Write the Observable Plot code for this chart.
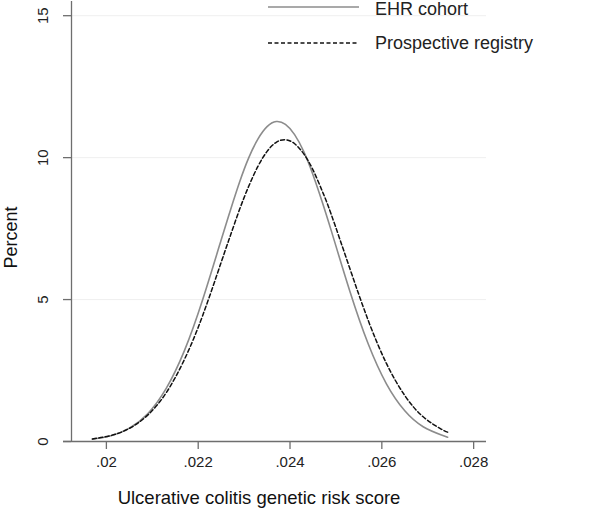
<!DOCTYPE html>
<html>
<head>
<meta charset="utf-8">
<script src="https://cdn.jsdelivr.net/npm/d3@7"></script>
<script src="https://cdn.jsdelivr.net/npm/@observablehq/plot@0.6"></script>
<style>
  html, body { margin: 0; padding: 0; background: #fff; }
  #wrap { position: relative; width: 603px; height: 511px; font-family: "Liberation Sans", Arial, sans-serif; }
  #legend { position: absolute; left: 268px; top: 0; font-size: 18px; color: #222; }
  .item { position: absolute; left: 0; white-space: nowrap; height: 20px; }
  .item svg { position: absolute; left: 0; top: 0; }
  .item span { position: absolute; left: 107px; top: 0; line-height: 20px; }
</style>
</head>
<body>
<div id="wrap"><div id="legend"></div></div>
<script>
// ---- data ----
const seriesNames = ["EHR cohort", "Prospective registry"];

const ehrX = [0.019695, 0.0201, 0.0205, 0.0209, 0.0213, 0.0217, 0.0221, 0.0225, 0.0227, 0.0229, 0.0231, 0.0233, 0.0235, 0.0237, 0.0239, 0.0241, 0.0243, 0.0245, 0.0247, 0.0249, 0.0253, 0.0257, 0.0261, 0.0265, 0.0269, 0.0273, 0.027433];
const ehrY = [0.08, 0.20, 0.47, 0.98, 1.86, 3.20, 5.01, 7.10, 8.14, 9.13, 9.99, 10.65, 11.09, 11.27, 11.17, 10.81, 10.21, 9.40, 8.45, 7.42, 5.31, 3.45, 2.03, 1.08, 0.52, 0.23, 0.15];

const proX = [0.019695, 0.0201, 0.0205, 0.0209, 0.0213, 0.0217, 0.0221, 0.0225, 0.0227, 0.0229, 0.0231, 0.0233, 0.0235, 0.0237, 0.0239, 0.0241, 0.0243, 0.0245, 0.0247, 0.0249, 0.0253, 0.0257, 0.0261, 0.0265, 0.0269, 0.0273, 0.027433];
const proY = [0.09, 0.21, 0.46, 0.93, 1.71, 2.89, 4.45, 6.31, 7.25, 8.17, 8.99, 9.69, 10.22, 10.54, 10.63, 10.49, 10.13, 9.57, 8.83, 7.99, 6.11, 4.28, 2.75, 1.62, 0.87, 0.43, 0.33];

const xTicks = [0.020, 0.022, 0.024, 0.026, 0.028];
const yTicks = [0, 5, 10, 15];
const gridTicks = [5, 10, 15];
const xDomain = [0.01924, 0.02828];
const yDomain = [0, 15.5];
const xLabel = "Ulcerative colitis genetic risk score";
const yLabel = "Percent";

// ---- build ----
const ehr = ehrX.map((x, i) => ({x, y: ehrY[i]}));
const pro = proX.map((x, i) => ({x, y: proY[i]}));
const fmt = d => String(+d.toFixed(3)).replace(/^0/, "");

const axisColor = "#6e6e6e";
const ehrColor = "#8c8c8c";
const proColor = "#111";

const chart = Plot.plot({
  width: 603,
  height: 511,
  marginLeft: 71,
  marginRight: 117,
  marginTop: 1,
  marginBottom: 70,
  style: { fontFamily: "'Liberation Sans', Arial, sans-serif", background: "#fff", color: "#222" },
  x: { domain: xDomain },
  y: { domain: yDomain },
  marks: [
    Plot.ruleY(gridTicks, { stroke: "#efefef", strokeWidth: 1 }),
    Plot.ruleY([0], { stroke: axisColor, strokeWidth: 1.3, insetLeft: -8 }),
    Plot.ruleX([xDomain[0]], { stroke: axisColor, strokeWidth: 1.3 }),
    Plot.axisX({ ticks: xTicks, tickSize: 8, tickPadding: 7, tickFormat: fmt, fontSize: 15, label: null, stroke: axisColor, strokeWidth: 1.3 }),
    Plot.axisY({ ticks: yTicks, tickSize: 8, tickFormat: () => "", label: null, stroke: axisColor, strokeWidth: 1.3 }),
    Plot.text(yTicks, { y: d => d, text: d => String(d), frameAnchor: "left", textAnchor: "middle", dx: -28, rotate: -90, fontSize: 15, fill: "#222" }),
    Plot.text([yLabel], { frameAnchor: "left", textAnchor: "middle", dx: -60, dy: 16, rotate: -90, fontSize: 18, fill: "#111" }),
    Plot.text([xLabel], { frameAnchor: "bottom", dy: 62, dx: -20, fontSize: 18.5, fill: "#111" }),
    Plot.line(ehr, { x: "x", y: "y", stroke: ehrColor, strokeWidth: 1.6, curve: "natural" }),
    Plot.line(pro, { x: "x", y: "y", stroke: proColor, strokeWidth: 1.5, strokeDasharray: "4,2.5", curve: "natural" })
  ]
});
document.getElementById("wrap").prepend(chart);
chart.style.position = "absolute";
chart.style.left = "0";
chart.style.top = "0";

// legend
const legend = document.getElementById("legend");
const legendStyles = [
  { stroke: ehrColor, dash: null, top: -1, lineY: 8 },
  { stroke: proColor, dash: "4,2.5", top: 33, lineY: 10 }
];
seriesNames.forEach((name, i) => {
  const st = legendStyles[i];
  const item = document.createElement("div");
  item.className = "item";
  item.style.top = st.top + "px";
  item.innerHTML = `<svg width="92" height="20"><line x1="0" x2="91" y1="${st.lineY}" y2="${st.lineY}" stroke="${st.stroke}" stroke-width="1.5" ${st.dash ? `stroke-dasharray="${st.dash}"` : ""}/></svg><span>${name}</span>`;
  legend.appendChild(item);
});
</script>
</body>
</html>
